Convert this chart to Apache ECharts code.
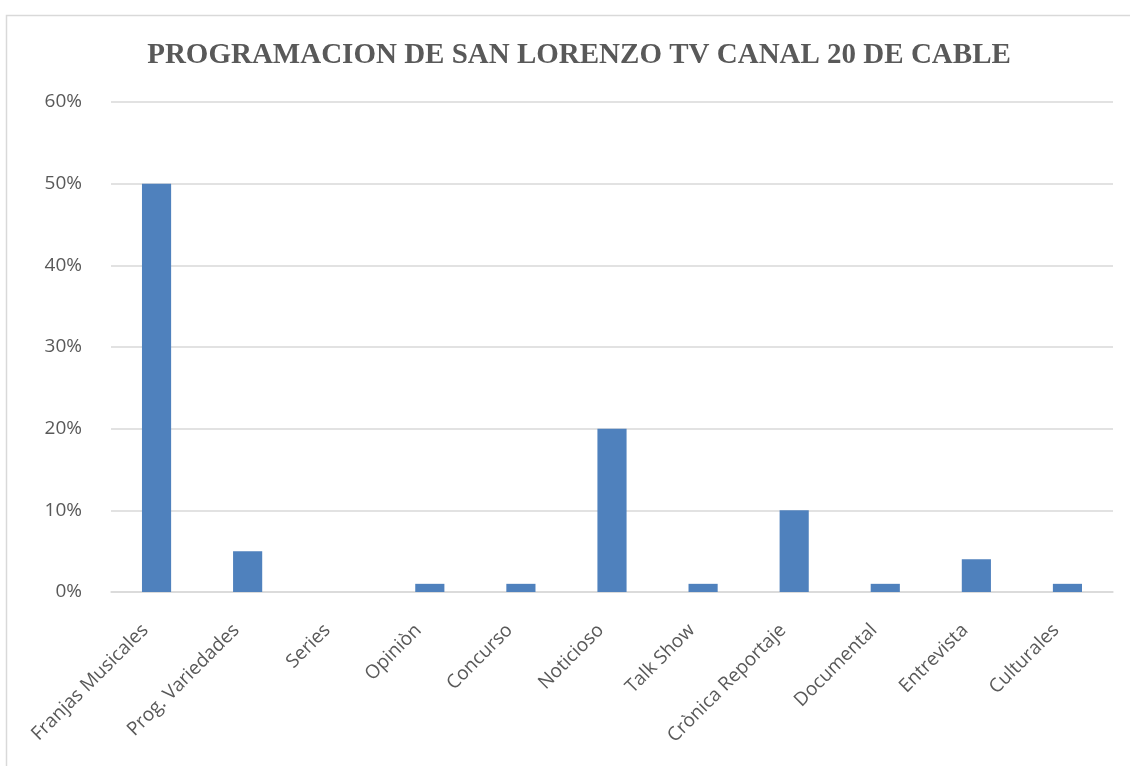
<!DOCTYPE html>
<html><head><meta charset="utf-8">
<script src="https://cdn.jsdelivr.net/npm/echarts@6/dist/echarts.min.js"></script>
<style>html,body{margin:0;padding:0;background:#fff}#c{width:1130px;height:766px}</style>
</head><body><div id="c"></div>
<script>
const titleText = 'PROGRAMACION DE SAN LORENZO TV CANAL 20 DE CABLE';
const categories = ['Franjas Musicales','Prog. Variedades','Series','Opiniòn','Concurso','Noticioso','Talk Show','Crònica Reportaje','Documental','Entrevista','Culturales'];
const values = [0.50,0.05,0,0.01,0.01,0.20,0.01,0.10,0.01,0.04,0.01];
const yTicks = [0,0.1,0.2,0.3,0.4,0.5,0.6];

const chart = echarts.init(document.getElementById('c'));
chart.setOption({
  animation:false,
  graphic:[{type:'rect',shape:{x:6.5,y:15.5,width:1140,height:800},style:{fill:'none',stroke:'#d9d9d9',lineWidth:1.5},silent:true}],
  title:{text:titleText,left:574,textAlign:'center',top:36,textStyle:{fontFamily:'Liberation Serif',fontWeight:'bold',fontSize:29,color:'#595959'}},
  grid:{left:111,right:17,top:102,bottom:174,containLabel:false},
  xAxis:{type:'category',data:categories,
    axisLine:{lineStyle:{color:'#d9d9d9',width:1.5}},axisTick:{show:false},
    axisLabel:{interval:0,rotate:45,margin:24,padding:[0,16,0,0],color:'#595959',fontFamily:'Open Sans',fontSize:19}},
  yAxis:{type:'value',min:yTicks[0],max:yTicks[yTicks.length-1],interval:0.1,
    axisLine:{show:false},axisTick:{show:false},
    splitLine:{lineStyle:{color:'#d9d9d9',width:1.5}},
    axisLabel:{margin:29,color:'#595959',fontFamily:'Open Sans',fontSize:19,formatter:v=>Math.round(v*100)+'%'}},
  series:[{type:'bar',data:values,barWidth:'32%',itemStyle:{color:'#4F81BD'}}]
});
</script></body></html>
